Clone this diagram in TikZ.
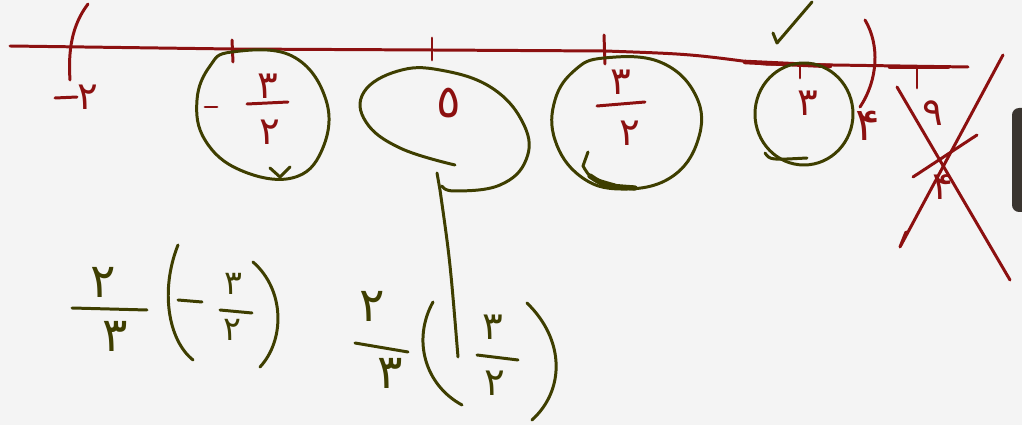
\documentclass[tikz,border=0pt]{standalone}
\usepackage{fontspec}
\newfontfamily\fa[Script=Arabic]{DejaVu Sans}
\definecolor{rd}{RGB}{140,16,16}
\definecolor{ol}{RGB}{62,62,0}
\definecolor{bg}{RGB}{244,244,244}
\definecolor{uibar}{RGB}{58,53,48}
\begin{document}
\begin{tikzpicture}[x=0.02cm,y=-0.02cm,line cap=round,line join=round,
  rline/.style={draw=rd,line width=1.7pt},
  oline/.style={draw=ol,line width=1.7pt},
  rtxt/.style={text=rd,font=\fa\fontsize{22}{24}\selectfont,inner sep=0pt},
  otxt/.style={text=ol,font=\fa\fontsize{#1}{#1}\selectfont,inner sep=0pt},
  otxt/.default=26]
\fill[bg] (0,0) rectangle (1022,425);
\useasboundingbox (0,0) rectangle (1022,425);
\fill[uibar,rounded corners=4pt] (1012,108) rectangle (1045,212);

% number line
\draw[rline] (10,46) -- (232,49) -- (432,50) -- (605,51) .. controls (690,54) .. (765,64) -- (968,67);
\draw[rline,line width=2.6pt] (745,62) -- (830,66);
\draw[rline,line width=2.6pt] (890,67) -- (948,67);
% ticks
\draw[rline] (232,40) -- (233,62);
\draw[rline] (432,38) -- (432,60);
\draw[rline] (604,35) -- (605,64);
\draw[rline] (800,64) -- (800,78);
\draw[rline] (917,68) -- (917,88);
% brackets
\draw[rline] (88,4) .. controls (72,25) and (68,50) .. (70,80);
\draw[rline] (865,20) .. controls (880,45) and (878,80) .. (860,107);
% check
\draw[oline] (773,33) -- (777,43) -- (812,2);

% labels on the line
\coordinate (m2a) at (55,98); \coordinate (m2b) at (77,97);
\draw[rline] (m2a) -- (m2b);
\node[rtxt] (n2) at (88,97) {۲};

% circle around -3/2
\draw[oline] plot[smooth cycle,tension=0.7] coordinates {(232,52) (292,56) (326,100) (322,150) (292,178) (240,170) (205,140) (197,100) (210,66)};
\draw[oline] (270,168) -- (280,177) -- (290,167);
\draw[rline] (205,107) -- (217,107);
\node[rtxt] (a3) at (268,86) {۳};
\draw[rline] (247,104) -- (288,102);
\node[rtxt] (a2) at (270,132) {۲};

% loop around 0
\draw[oline] plot[smooth,tension=0.7] coordinates {(455,165) (400,148) (366,122) (364,92) (398,71) (440,70) (492,88) (524,125) (526,160) (500,185) (455,191) (442,186)};
\coordinate (ls) at (437,173); \coordinate (le) at (458,357);
\draw[oline] (ls) -- (440,190) .. controls (450,260) .. (le);
\node[rtxt,font=\fa\fontsize{26}{26}\selectfont] (z0) at (449,103) {٥};

% circle around 3/2
\draw[oline] plot[smooth cycle,tension=0.7] coordinates {(604,58) (660,62) (696,96) (698,140) (670,178) (620,189) (580,176) (555,140) (555,100) (575,70)};
\draw[oline] (588,152) -- (583,166) .. controls (590,178) .. (615,185);
\draw[oline,line width=3pt] (590,176) .. controls (605,186) .. (635,188);
\node[rtxt] (b3) at (621,82) {۳};
\draw[rline] (597,106) -- (645,102);
\node[rtxt] (b2) at (630,133) {۲};

% circle around 3
\draw[oline] (804,114) ellipse [x radius=49,y radius=51];
\draw[oline] (765,153) .. controls (770,160) .. (807,158);
\node[rtxt] (c3) at (808,103) {۳};
\node[rtxt,font=\fa\fontsize{26}{26}\selectfont] (c4) at (868,126) {۴};

% crossed 9/4
\node[rtxt] (d9) at (933,113) {۹};
\draw[rline] (913,177) -- (977,135);
\node[rtxt] (d4) at (943,187) {۴};
\draw[rline] (897,87) -- (1010,280);
\draw[rline] (1003,55) -- (900,247) -- (906,232);

% lower left expression
\node[otxt=27] (e2) at (103,282) {۲};
\draw[oline] (72,308) -- (147,310);
\node[otxt=27] (e3) at (115,336) {۳};
\draw[oline] (178,245) .. controls (160,290) and (168,340) .. (193,360);
\draw[oline] (178,300) -- (202,302);
\node[otxt=19] (e3b) at (233,284) {۳};
\draw[oline] (220,310) -- (252,313);
\node[otxt=19] (e2b) at (232,330) {۲};
\draw[oline] (253,262) .. controls (285,290) and (285,340) .. (260,367);

% lower right expression
\node[otxt=27] (f2) at (372,306) {۲};
\draw[oline] (355,343) -- (408,352);
\node[otxt=27] (f3) at (390,373) {۳};
\draw[oline] (433,302) .. controls (412,340) and (425,385) .. (462,405);
\node[otxt=22] (f3b) at (493,327) {۳};
\draw[oline] (477,355) -- (518,360);
\node[otxt=22] (f2b) at (495,383) {۲};
\draw[oline] (527,303) .. controls (565,340) and (565,390) .. (532,420);
\end{tikzpicture}
\end{document}
